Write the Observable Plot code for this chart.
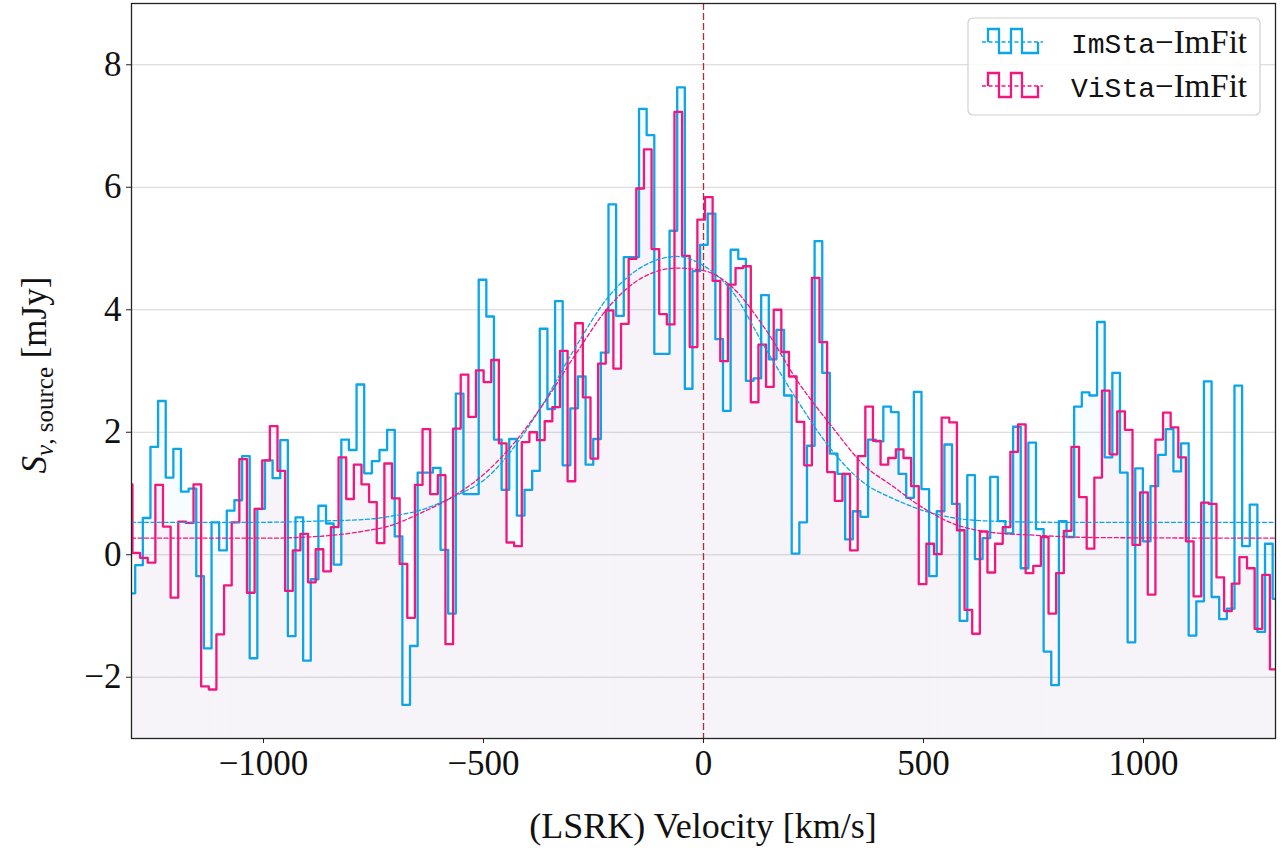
<!DOCTYPE html>
<html>
<head>
<meta charset="utf-8">
<script src="https://cdn.jsdelivr.net/npm/d3@7"></script>
<script src="https://cdn.jsdelivr.net/npm/@observablehq/plot@0.6"></script>
<style>
  html, body { margin: 0; padding: 0; background: #fff; }
  #chart { width: 1286px; height: 848px; }
</style>
</head>
<body>
<div id="chart"></div>
<script>
// ---------- data ----------
const seriesNames = ["ImSta", "ViSta"];
const seriesColors = ["#0ba5e8", "#f2177f"];

// channel grid (km/s): centre of first channel and channel width
const imstaFirstChannel = -1300.3;
const vistaFirstChannel = -1306.5;
const channelWidth = 17.35;

// flux density per channel (mJy)
const imstaFlux = [
 -0.63,-0.17,0.60,1.76,2.51,1.26,1.73,1.03,1.08,-0.35,
 -1.53,0.53,0.07,0.72,0.89,1.61,-1.69,0.75,1.54,1.25,
 1.87,-1.33,0.61,-1.73,-0.40,0.80,0.51,-0.16,1.88,1.71,
 2.78,1.33,1.53,1.71,2.04,0.30,-2.45,-1.49,1.34,1.34,
 1.42,0.08,-0.96,2.63,0.99,0.99,4.49,3.89,1.88,1.06,
 1.89,0.64,1.06,1.37,3.69,2.38,4.14,1.46,2.39,2.91,
 1.47,1.89,3.30,5.72,3.90,4.86,4.86,7.28,6.85,3.28,
 3.28,5.29,7.63,2.71,4.63,5.06,5.57,3.52,2.35,4.98,
 4.83,2.84,2.88,4.24,3.19,3.67,2.60,0.02,0.53,1.78,
 5.12,2.97,1.65,1.32,0.25,0.71,0.62,1.88,1.85,2.42,
 2.33,1.32,0.93,2.66,1.07,-0.35,0.71,1.80,0.83,-1.08,
 1.30,-0.07,0.27,1.27,0.55,0.35,2.09,-0.22,1.83,0.42,
 -1.58,-2.13,0.55,0.29,2.42,2.65,2.60,3.80,1.59,2.97,
 1.34,-1.43,1.41,0.22,1.12,1.63,2.05,1.36,1.82,-1.32,
 -0.76,2.83,-0.69,-1.05,-0.88,2.76,0.14,0.82,-1.26,0.18,
 -0.72
];
const vistaFlux = [
 1.15,0.03,-0.05,-0.13,1.14,0.46,-0.70,0.54,0.52,1.15,
 -2.15,-2.20,-1.30,-0.50,0.53,1.56,-0.62,0.75,1.54,2.10,
 1.37,-0.59,0.07,0.34,-0.45,0.09,-0.27,0.45,1.59,0.91,
 1.47,1.15,0.86,0.19,1.49,0.92,-0.15,-1.03,1.14,2.05,
 0.99,1.30,-1.46,2.06,2.94,2.25,3.01,2.82,3.18,1.82,
 0.20,0.14,1.84,2.00,1.87,2.18,2.41,3.33,1.20,3.78,
 2.57,1.57,3.12,3.99,3.04,3.77,4.83,5.98,6.62,4.99,
 3.93,3.76,7.23,4.88,3.39,5.47,5.84,4.47,3.16,4.41,
 4.68,4.71,2.49,3.43,2.74,4.00,3.31,2.91,2.17,1.46,
 4.52,3.47,1.35,0.88,1.32,0.07,1.61,2.42,1.86,1.47,
 1.58,1.72,1.58,1.12,-0.48,0.18,0.01,2.24,2.16,0.40,
 -0.90,-1.29,0.38,-0.29,0.18,0.45,1.68,2.13,-0.30,-0.18,
 0.29,-0.96,-0.30,0.39,1.76,0.94,0.10,1.26,2.68,1.64,
 2.34,2.04,0.16,1.02,-0.65,1.88,2.32,2.08,1.59,0.22,
 -0.68,0.85,0.83,-0.37,-0.92,-0.47,-0.04,-0.22,-1.21,-0.33,
 -1.87
];

// Gaussian fit curves
const imstaFitVelocity = [-1300,-1000,-875,-760,-719,-643,-567,-492,-424,-370,-290,-215,-140,-60,0,65,140,215,290,365,430,500,570,650,800,1300];
const imstaFitFlux     = [0.53,0.53,0.55,0.58,0.62,0.73,0.95,1.26,1.82,2.40,3.40,4.22,4.70,4.87,4.72,4.30,3.38,2.50,1.72,1.17,0.92,0.72,0.60,0.55,0.53,0.53];
const vistaFitVelocity = [-1300,-1000,-875,-760,-719,-643,-567,-492,-424,-365,-290,-215,-140,-60,0,65,140,215,290,365,430,500,570,650,750,900,1300];
const vistaFitFlux     = [0.27,0.27,0.30,0.40,0.46,0.68,0.96,1.36,1.88,2.45,3.28,4.05,4.52,4.68,4.64,4.37,3.69,2.82,2.11,1.46,1.12,0.76,0.50,0.37,0.32,0.28,0.27];

const xTicks = [-1000, -500, 0, 500, 1000];
const yTicks = [-2, 0, 2, 4, 6, 8];
const xDomain = [-1300, 1300];
const yDomain = [-3, 9];
const systemicVelocity = [0];

// ---------- build tables ----------
function channels(flux, first) {
  return flux.map((f, i) => ({
    x1: first + (i - 0.5) * channelWidth,
    x2: first + (i + 0.5) * channelWidth,
    y: f
  }));
}
function stepPoints(ch) {
  const pts = [];
  ch.forEach(c => { pts.push({x: c.x1, y: c.y}); pts.push({x: c.x2, y: c.y}); });
  return pts;
}
function fitPoints(v, f) { return v.map((x, i) => ({x, y: f[i]})); }

const imCh = channels(imstaFlux, imstaFirstChannel);
const viCh = channels(vistaFlux, vistaFirstChannel);
const imStep = stepPoints(imCh);
const viStep = stepPoints(viCh);
const imFit = fitPoints(imstaFitVelocity, imstaFitFlux);
const viFit = fitPoints(vistaFitVelocity, vistaFitFlux);

const minus = d => d < 0 ? "\u2212" + Math.abs(d) : String(d);
const serif = "'Liberation Serif', 'DejaVu Serif', serif";

const plot = Plot.plot({
  width: 1286,
  height: 848,
  marginLeft: 131,
  marginRight: 11,
  marginTop: 3,
  marginBottom: 110,
  x: {domain: xDomain},
  y: {domain: yDomain},
  style: {fontFamily: serif, fontSize: "35px", color: "#111", background: "#fff", overflow: "visible"},
  marks: [
    Plot.gridY(yTicks, {stroke: "#d4d4d4", strokeOpacity: 1, strokeWidth: 1}),
    Plot.rectY(viCh, {x1: "x1", x2: "x2", y1: yDomain[0], y2: "y", fill: seriesColors[1], fillOpacity: 0.04, clip: true}),
    Plot.rectY(imCh, {x1: "x1", x2: "x2", y1: yDomain[0], y2: "y", fill: seriesColors[0], fillOpacity: 0.03, clip: true}),
    Plot.ruleX(systemicVelocity, {stroke: "#a83232", strokeOpacity: 1, strokeDasharray: "7,3", strokeWidth: 1.3}),
    Plot.line(imStep, {x: "x", y: "y", stroke: seriesColors[0], strokeWidth: 2.3, clip: true}),
    Plot.line(viStep, {x: "x", y: "y", stroke: seriesColors[1], strokeWidth: 2.3, clip: true}),
    Plot.line(imFit, {x: "x", y: "y", curve: "monotone-x", stroke: seriesColors[0], strokeWidth: 1.3, strokeDasharray: "4,2.5", clip: true}),
    Plot.line(viFit, {x: "x", y: "y", curve: "monotone-x", stroke: seriesColors[1], strokeWidth: 1.3, strokeDasharray: "4,2.5", clip: true}),
    Plot.axisX(xTicks, {tickSize: 5, tickPadding: 7, tickFormat: minus, label: null, stroke: "#222"}),
    Plot.axisY(yTicks, {tickSize: 5, tickPadding: 5, tickFormat: minus, label: null, stroke: "#222"}),
    Plot.frame({stroke: "#222", strokeWidth: 1.3})
  ]
});

const svg = d3.select(plot);

// x axis label
svg.append("text")
  .attr("x", 703).attr("y", 838)
  .attr("text-anchor", "middle")
  .attr("font-family", serif).attr("font-size", 36).attr("fill", "#111")
  .text("(LSRK) Velocity [km/s]");

// y axis label
const yl = svg.append("text")
  .attr("transform", "translate(46,375) rotate(-90)")
  .attr("text-anchor", "middle")
  .attr("font-family", serif).attr("font-size", 35).attr("fill", "#111");
yl.append("tspan").attr("font-style", "italic").text("S");
yl.append("tspan").attr("font-style", "italic").attr("font-size", 25).attr("dy", 7).text("\u03bd");
yl.append("tspan").attr("font-size", 25).text(", source");
yl.append("tspan").attr("dy", -7).text(" [mJy]");

// legend
const lg = svg.append("g").attr("text-anchor", "start");
lg.append("rect")
  .attr("x", 968).attr("y", 18).attr("width", 292).attr("height", 97)
  .attr("rx", 5).attr("fill", "#fff").attr("fill-opacity", 0.85)
  .attr("stroke", "#cfcfcf").attr("stroke-width", 1.2);
seriesNames.forEach((name, i) => {
  const cy = 42 + i * 44;
  const c = seriesColors[i];
  lg.append("line")
    .attr("x1", 982).attr("x2", 1043).attr("y1", cy).attr("y2", cy)
    .attr("stroke", c).attr("stroke-width", 1.3).attr("stroke-dasharray", "4,2.5");
  const t = cy - 13, b = cy + 11;
  lg.append("path")
    .attr("d", `M988,${cy}L988,${t}L999,${t}L999,${b}L1011,${b}L1011,${t}L1022,${t}L1022,${b}L1038,${b}L1038,${cy}`)
    .attr("fill", "none").attr("stroke", c).attr("stroke-width", 2.3);
  const tx = lg.append("text")
    .attr("x", 1071).attr("y", cy + 11)
    .attr("text-anchor", "start")
    .attr("fill", "#111");
  tx.append("tspan").attr("font-family", "'Liberation Mono', 'DejaVu Sans Mono', monospace").attr("font-size", 28).text(name);
  tx.append("tspan").attr("font-family", serif).attr("font-size", 33).text("\u2212ImFit");
});

document.getElementById("chart").appendChild(plot);
</script>
</body>
</html>
